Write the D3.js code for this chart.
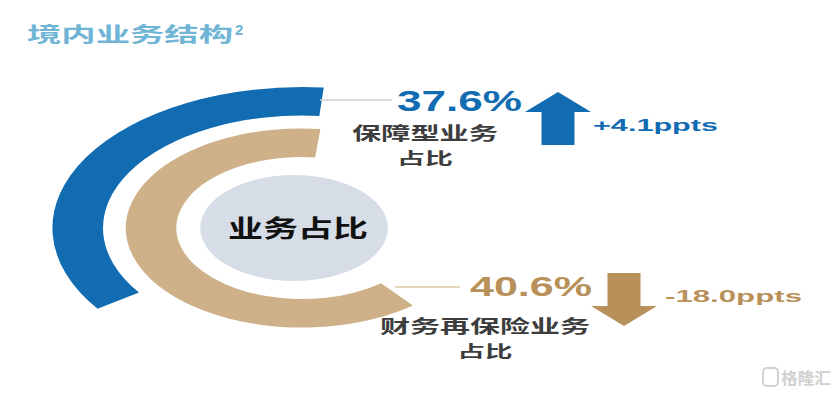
<!DOCTYPE html>
<html>
<head>
<meta charset="utf-8">
<script src="https://cdn.jsdelivr.net/npm/d3@7"></script>
<style>
  body { margin: 0; background: #fff; }
  text { font-family: "Noto Sans CJK SC", "DejaVu Sans", sans-serif; font-weight: bold; }
  .num { font-family: "Liberation Sans", Arial, sans-serif; }
</style>
</head>
<body>
<div class="ring-chart"></div>
<script>
let segments = ["保障型业务", "财务再保险业务"];
let shares = [37.6, 40.6];
let changes = [4.1, -18.0];
let title = "境内业务结构";
let centerLabel = "业务占比";

let width = 837, height = 395;

createRingChart = () => {
    let svg = d3.select(".ring-chart")
        .append("svg")
        .attr("width", width)
        .attr("height", height);

    // colours per segment
    let ringColor = d3.scaleOrdinal().domain(segments).range(["#126cb2", "#cfb189"]);
    let textColor = d3.scaleOrdinal().domain(segments).range(["#126cb2", "#b8915a"]);

    // ring radii (drawn as circles, then stretched horizontally like the slide)
    let radius = d3.scaleBand()
        .domain(segments.slice().reverse())
        .range([71, 141])
        .paddingInner(0.31);

    // where each ring stops (degrees, clockwise from 12 o'clock)
    let arcStart = [-125, -219], arcEnd = [5, 6];

    let arc = d3.arc();
    let rings = svg.append("g")
        .attr("transform", "translate(302,228) scale(1.77,1)");

    rings.selectAll("path")
        .data(segments)
        .enter()
        .append("path")
        .attr("d", (d, i) => arc({
            innerRadius: radius(d),
            outerRadius: radius(d) + radius.bandwidth(),
            startAngle: arcStart[i] * Math.PI / 180,
            endAngle: arcEnd[i] * Math.PI / 180
        }))
        .attr("fill", d => ringColor(d));

    rings.append("circle")
        .attr("cx", -4.5)
        .attr("r", 53)
        .attr("fill", "#d7dde7");

    svg.append("text")
        .attr("x", 228).attr("y", 237)
        .attr("font-size", 24)
        .attr("textLength", 140).attr("lengthAdjust", "spacingAndGlyphs")
        .attr("fill", "#111")
        .text(centerLabel);

    // title
    svg.append("text")
        .attr("x", 27).attr("y", 42)
        .attr("font-size", 20)
        .attr("textLength", 206).attr("lengthAdjust", "spacingAndGlyphs")
        .attr("fill", "#70b5d5")
        .text(title);
    svg.append("text")
        .attr("class", "num")
        .attr("x", 235).attr("y", 35)
        .attr("font-size", 15)
        .attr("fill", "#70b5d5")
        .text("2");

    // label blocks for each segment
    let pos = [
        {lx1: 320, lx2: 392, ly: 100, nx: 397, ny: 111, nw: 125, ns: 30, cx: 425, c1: 140, cw1: 146, c2: 164, cw2: 56, ax: 558, ay: 92, px: 593, py: 131, pw: 125},
        {lx1: 395, lx2: 460, ly: 287, nx: 470, ny: 296, nw: 122, ns: 28, cx: 485, c1: 333, cw1: 210, c2: 357, cw2: 55, ax: 624, ay: 326, px: 665, py: 302, pw: 137}
    ];
    let lineColor = ["#cfcfcf", "#dccaa9"];
    let fmtPct = d3.format(".1f");

    segments.forEach((s, i) => {
        let p = pos[i];
        svg.append("line")
            .attr("x1", p.lx1).attr("x2", p.lx2)
            .attr("y1", p.ly).attr("y2", p.ly)
            .attr("stroke", lineColor[i]).attr("stroke-width", 1.5);

        svg.append("text")
            .attr("class", "num")
            .attr("x", p.nx).attr("y", p.ny)
            .attr("font-size", p.ns)
            .attr("textLength", p.nw).attr("lengthAdjust", "spacingAndGlyphs")
            .attr("fill", textColor(s))
            .text(fmtPct(shares[i]) + "%");

        // two-line caption in one text element
        let cap = svg.append("text")
            .attr("text-anchor", "middle")
            .attr("fill", "#3d3d3d");
        cap.append("tspan")
            .attr("x", p.cx).attr("y", p.c1)
            .attr("font-size", 18)
            .attr("textLength", p.cw1).attr("lengthAdjust", "spacingAndGlyphs")
            .text(s);
        cap.append("tspan")
            .attr("x", p.cx).attr("y", p.c2)
            .attr("font-size", 16)
            .attr("textLength", p.cw2).attr("lengthAdjust", "spacingAndGlyphs")
            .text("占比");

        // arrow: up for a rise, down for a fall
        let dir = changes[i] >= 0 ? 1 : -1;
        let head = 20, len = 53, hw = 33, sw = 16.5;
        let pts = [
            [0, 0], [hw, head], [sw, head], [sw, len],
            [-sw, len], [-sw, head], [-hw, head]
        ].map(q => [p.ax + q[0], p.ay + dir * q[1]]);
        svg.append("path")
            .attr("d", d3.line()(pts) + "Z")
            .attr("fill", textColor(s));

        let v = changes[i];
        svg.append("text")
            .attr("class", "num")
            .attr("x", p.px).attr("y", p.py)
            .attr("font-size", 17)
            .attr("textLength", p.pw).attr("lengthAdjust", "spacingAndGlyphs")
            .attr("fill", textColor(s))
            .text((v >= 0 ? "+" : "-") + fmtPct(Math.abs(v)) + "ppts");
    });

    // watermark
    svg.append("rect")
        .attr("x", 763).attr("y", 368)
        .attr("width", 15).attr("height", 18).attr("rx", 4)
        .attr("fill", "none").attr("stroke", "#d0d0d0").attr("stroke-width", 2);
    svg.append("text")
        .attr("x", 781).attr("y", 384)
        .attr("font-size", 16)
        .attr("textLength", 50).attr("lengthAdjust", "spacingAndGlyphs")
        .attr("fill", "#d0d0d0")
        .text("格隆汇");
}

createRingChart()
</script>
</body>
</html>
